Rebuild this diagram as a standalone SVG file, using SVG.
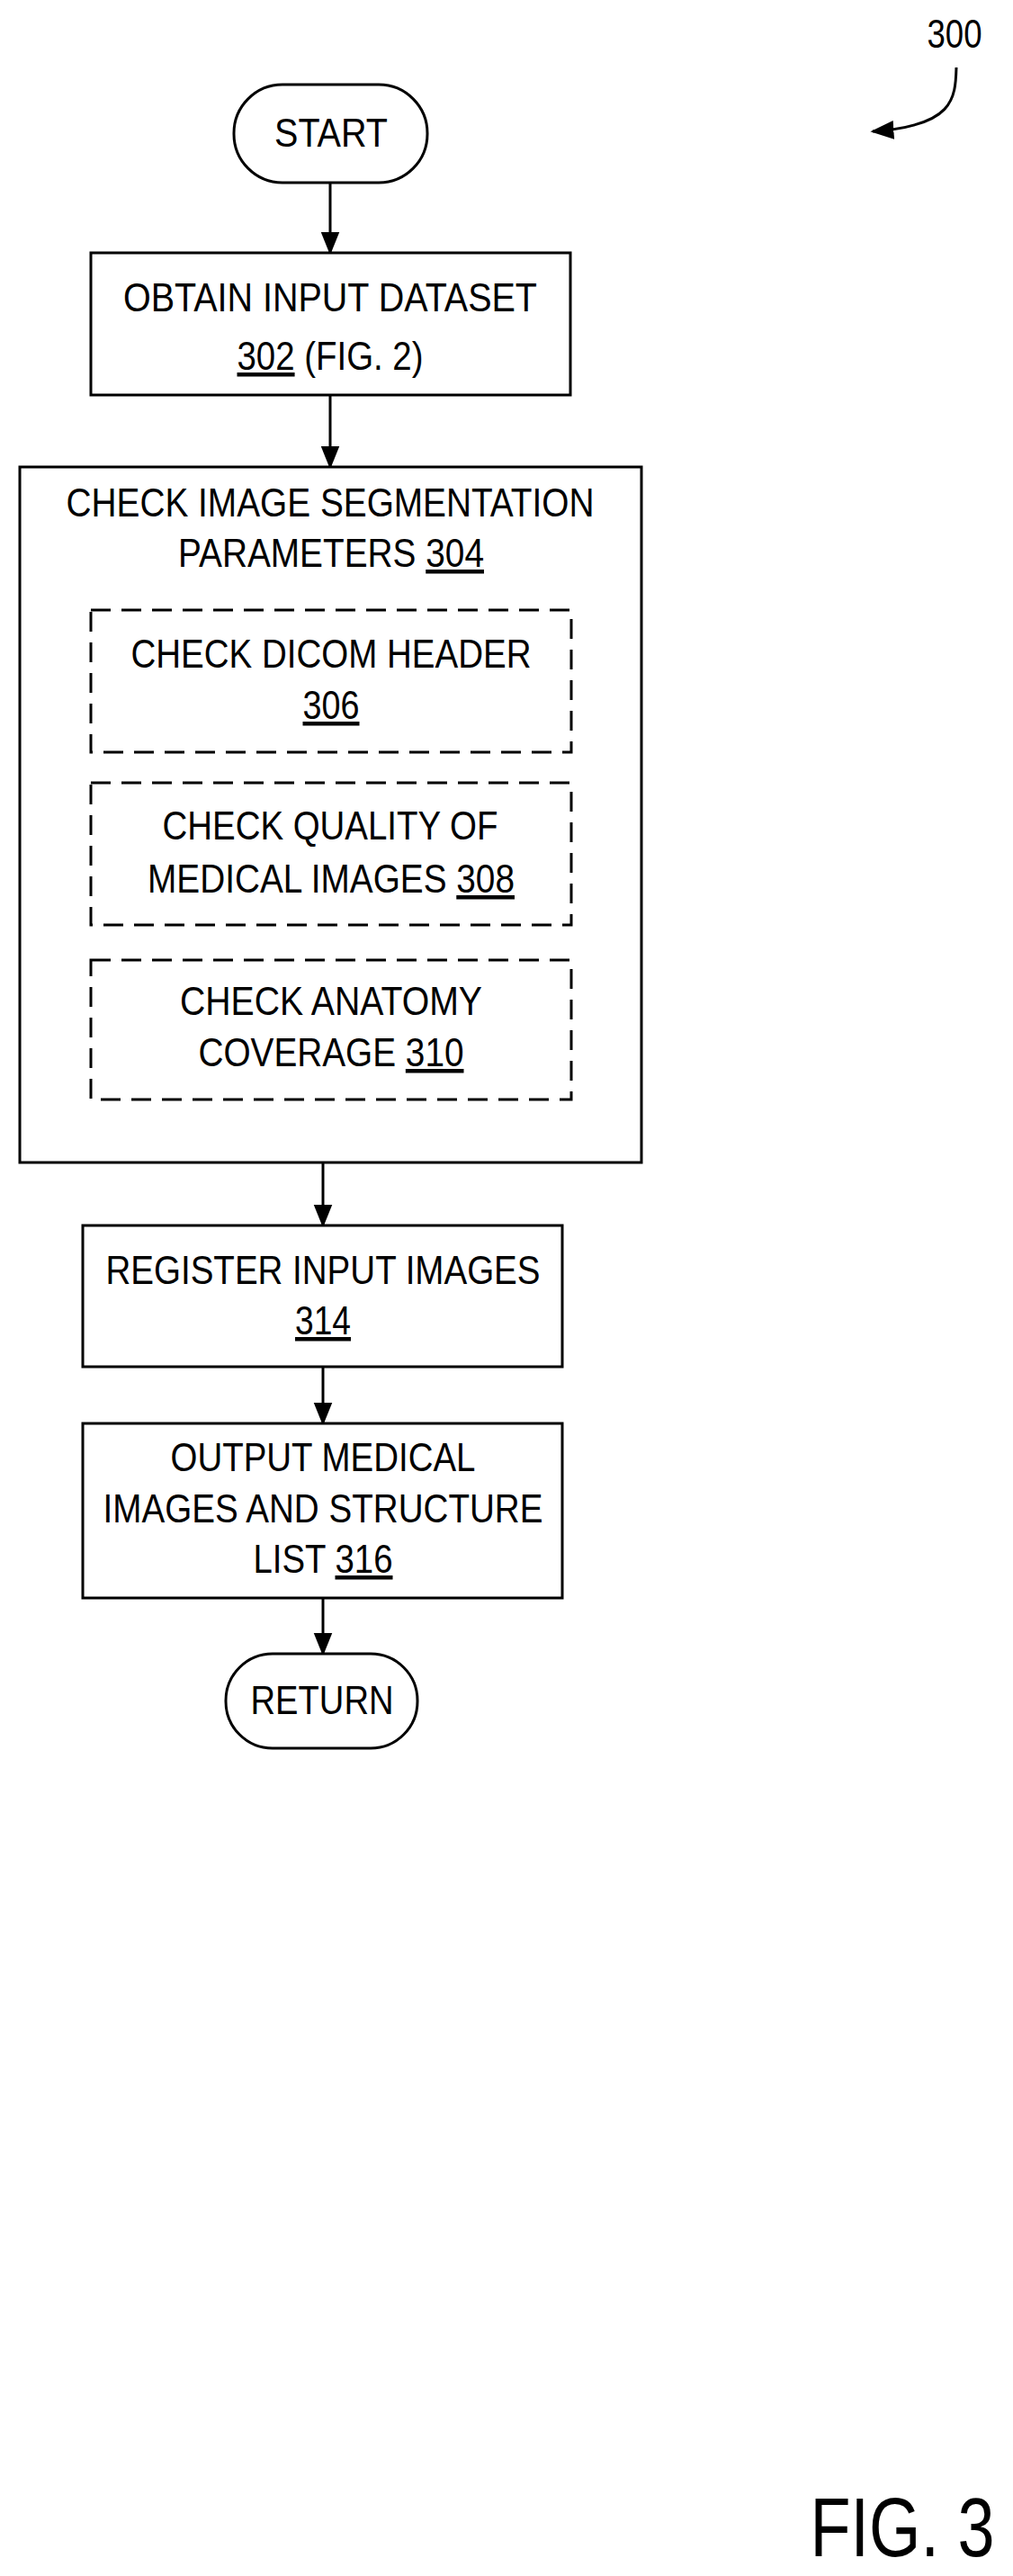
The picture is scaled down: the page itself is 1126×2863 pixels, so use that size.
<svg xmlns="http://www.w3.org/2000/svg" width="1126" height="2863" viewBox="0 0 1126 2863">
<style>
.b{fill:#fff;stroke:#000;stroke-width:3}
.d{fill:none;stroke:#000;stroke-width:3;stroke-dasharray:22,12}
text{font-family:"Liberation Sans",Arial,sans-serif;font-size:45px;text-anchor:middle;fill:#000}
.c{stroke:#000;stroke-width:3;fill:none}
</style>
<defs>
<marker id="ah" viewBox="0 0 10 10" refX="9" refY="5" markerWidth="26" markerHeight="26" orient="auto" markerUnits="userSpaceOnUse"><path d="M0,1L10,5L0,9z"/></marker></defs>
<g id="connectors">
<line class="c" x1="367" y1="203" x2="367" y2="281" marker-end="url(#ah)"/>
<line class="c" x1="367" y1="439" x2="367" y2="519" marker-end="url(#ah)"/>
<line class="c" x1="359" y1="1292" x2="359" y2="1362" marker-end="url(#ah)"/>
<line class="c" x1="359" y1="1519" x2="359" y2="1582" marker-end="url(#ah)"/>
<line class="c" x1="359" y1="1776" x2="359" y2="1838" marker-end="url(#ah)"/>
<path class="c" d="M1063,75 C1062,110 1060,140 970,146" marker-end="url(#ah)"/>
</g>
<g id="label300"><text x="1061" y="53" textLength="61" lengthAdjust="spacingAndGlyphs">300</text></g>
<g id="start"><rect class="b" x="260" y="94" width="215" height="109" rx="54"/><text x="368" y="163" textLength="126" lengthAdjust="spacingAndGlyphs">START</text></g>
<g id="n302"><rect class="b" x="101" y="281" width="533" height="158"/><text x="367" y="346" textLength="460" lengthAdjust="spacingAndGlyphs">OBTAIN INPUT DATASET</text><text x="367" y="411" textLength="207" lengthAdjust="spacingAndGlyphs"><tspan text-decoration="underline">302</tspan> (FIG. 2)</text></g>
<g id="n304"><rect class="b" x="22" y="519" width="691" height="773"/><text x="367" y="574" textLength="587" lengthAdjust="spacingAndGlyphs">CHECK IMAGE SEGMENTATION</text><text x="368" y="630" textLength="340" lengthAdjust="spacingAndGlyphs">PARAMETERS <tspan text-decoration="underline">304</tspan></text></g>
<g id="n306"><rect class="d" x="101" y="678" width="534" height="158"/><text x="368" y="742" textLength="445" lengthAdjust="spacingAndGlyphs">CHECK DICOM HEADER</text><text x="368" y="799" textLength="63" lengthAdjust="spacingAndGlyphs" text-decoration="underline">306</text></g>
<g id="n308"><rect class="d" x="101" y="870" width="534" height="158"/><text x="367" y="933" textLength="373" lengthAdjust="spacingAndGlyphs">CHECK QUALITY OF</text><text x="368" y="992" textLength="408" lengthAdjust="spacingAndGlyphs">MEDICAL IMAGES <tspan text-decoration="underline">308</tspan></text></g>
<g id="n310"><rect class="d" x="101" y="1067" width="534" height="155"/><text x="368" y="1128" textLength="336" lengthAdjust="spacingAndGlyphs">CHECK ANATOMY</text><text x="368" y="1185" textLength="295" lengthAdjust="spacingAndGlyphs">COVERAGE <tspan text-decoration="underline">310</tspan></text></g>
<g id="n314"><rect class="b" x="92" y="1362" width="533" height="157"/><text x="359" y="1427" textLength="483" lengthAdjust="spacingAndGlyphs">REGISTER INPUT IMAGES</text><text x="359" y="1483" textLength="62" lengthAdjust="spacingAndGlyphs" text-decoration="underline">314</text></g>
<g id="n316"><rect class="b" x="92" y="1582" width="533" height="194"/><text x="359" y="1635" textLength="339" lengthAdjust="spacingAndGlyphs">OUTPUT MEDICAL</text><text x="359" y="1692" textLength="489" lengthAdjust="spacingAndGlyphs">IMAGES AND STRUCTURE</text><text x="359" y="1748" textLength="155" lengthAdjust="spacingAndGlyphs">LIST <tspan text-decoration="underline">316</tspan></text></g>
<g id="ret"><rect class="b" x="251" y="1838" width="213" height="105" rx="52"/><text x="358" y="1905" textLength="159" lengthAdjust="spacingAndGlyphs">RETURN</text></g>
<g id="fig"><text x="1003" y="2841" style="font-size:93px" textLength="205" lengthAdjust="spacingAndGlyphs">FIG. 3</text></g>
</svg>
